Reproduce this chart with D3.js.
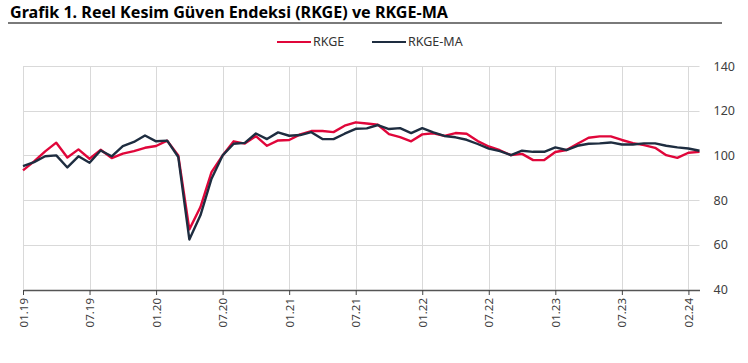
<!DOCTYPE html>
<html>
  <head>
    <meta charset="utf-8">
    <title>Grafik 1</title>
    <script src="https://d3js.org/d3.v7.min.js"></script>
    <style type="text/css">
      body { margin: 0; background: #fff; }
      text { font-family: "Noto Sans", "Open Sans", sans-serif; }
    </style>
  </head>
  <body>
    <div id="chart"></div>
    <script>

      // monthly values, 01.19 .. 02.24 (62 months)
      var rkge = [93.3, 97.3, 101.8, 105.7, 99.1, 102.7, 98.5, 102.5, 98.8, 100.8, 101.9, 103.4, 104.2, 106.6, 100.0,
                  66.9, 76.9, 92.5, 100.0, 106.3, 105.3, 108.6,
                  104.3, 106.7, 106.9, 109.4, 110.9, 110.9, 110.4, 113.3, 114.8, 114.3, 113.7, 109.5, 108.2, 106.3,
                  109.4, 109.9, 108.7, 110.0, 109.7, 106.4, 104.0, 102.3,
                  100.1, 100.7, 97.9, 97.9, 101.5, 102.4, 105.2, 107.9, 108.5, 108.5, 106.9, 105.5, 104.6, 103.4,
                  100.1, 98.9, 101.2, 101.6];
      var rkgeMa = [95.2, 97.0, 99.6, 100.0, 94.6, 99.6, 96.7, 102.2, 99.6, 104.2, 106.0, 108.9, 106.3, 106.6, 99.3,
                    62.4, 73.2, 89.6, 100.0, 105.2, 105.6, 109.8,
                    107.3, 110.3, 108.8, 109.1, 110.4, 107.3, 107.3, 109.7, 111.9, 112.1, 113.6, 111.8, 112.2, 110.0,
                    112.2, 110.3, 108.7, 108.1, 107.0, 105.1, 103.0, 101.9,
                    100.1, 102.1, 101.6, 101.6, 103.6, 102.4, 104.3, 105.2, 105.4, 105.8, 104.9, 104.9, 105.4, 105.4,
                    104.3, 103.6, 103.1, 102.1];
      // x tick positions (month index) and their labels
      var tickIdx = [0, 6, 12, 18, 24, 30, 36, 42, 48, 54, 60];
      var tickLabels = ["01.19", "07.19", "01.20", "07.20", "01.21", "07.21", "01.22", "07.22", "01.23", "07.23", "02.24"];
      var yTicks = [40, 60, 80, 100, 120, 140];

      var width = 748, height = 363;
      var plotL = 23, plotR = 699.5, plotT = 66, plotB = 289.5;

      var svg = d3.select("#chart")
        .append("svg")
          .attr("width", width)
          .attr("height", height);

      svg.append("rect").attr("width", width).attr("height", height).attr("fill", "#fff");

      // title + rule under it
      svg.append("text")
        .attr("x", 10)
        .attr("y", 18)
        .attr("font-size", 16)
        .attr("font-weight", "bold")
        .attr("fill", "#000")
        .attr("textLength", 438)
        .attr("lengthAdjust", "spacingAndGlyphs")
        .text("Grafik 1. Reel Kesim Güven Endeksi (RKGE) ve RKGE-MA");

      svg.append("line")
        .attr("x1", 8).attr("x2", 722)
        .attr("y1", 23).attr("y2", 23)
        .attr("stroke", "#7a7a7a")
        .attr("stroke-width", 2);

      var x = d3.scaleLinear().domain([0, rkge.length - 1]).range([plotL, plotR]);
      var y = d3.scaleLinear().domain([40, 140]).range([plotB, plotT]);

      // grid
      svg.append("g")
        .selectAll("line")
        .data(yTicks.slice(1))
        .enter()
        .append("line")
          .attr("x1", plotL).attr("x2", plotR)
          .attr("y1", function(d) { return Math.round(y(d)) + 0.5; })
          .attr("y2", function(d) { return Math.round(y(d)) + 0.5; })
          .attr("stroke", "#d9d9d9");

      svg.append("g")
        .selectAll("line")
        .data(tickIdx)
        .enter()
        .append("line")
          .attr("x1", function(d) { return Math.round(x(d)) + 0.5; })
          .attr("x2", function(d) { return Math.round(x(d)) + 0.5; })
          .attr("y1", plotT).attr("y2", plotB)
          .attr("stroke", "#d9d9d9");

      // right axis labels
      svg.append("g")
        .attr("transform", "translate(" + plotR + ",0)")
        .call(d3.axisRight(y).tickValues(yTicks).tickSize(0).tickPadding(14))
        .call(function(g) { g.select(".domain").remove(); })
        .selectAll("text")
          .attr("font-size", 12.5)
          .attr("font-family", "Noto Sans")
          .attr("fill", "#404040");

      // bottom axis
      var xAxis = svg.append("g")
        .attr("transform", "translate(0," + Math.round(plotB) + ")")
        .call(d3.axisBottom(x).tickValues(tickIdx)
          .tickFormat(function(d, i) { return tickLabels[i]; })
          .tickSize(5).tickSizeOuter(0));
      xAxis.select(".domain").attr("stroke", "#555").attr("stroke-width", 1.5);
      xAxis.selectAll(".tick line").attr("stroke", "#444");
      xAxis.selectAll("text")
        .attr("font-size", 11.5)
        .attr("font-family", "Noto Sans")
        .attr("fill", "#404040")
        .attr("transform", "rotate(-90)")
        .attr("text-anchor", "end")
        .attr("x", -8)
        .attr("y", 0)
        .attr("dy", "0.35em");

      // lines
      var line = d3.line()
        .x(function(d, i) { return x(i); })
        .y(function(d) { return y(d); });

      svg.append("path")
        .datum(rkge)
        .attr("d", line)
        .attr("fill", "none")
        .attr("stroke", "#e0063a")
        .attr("stroke-width", 2.4)
        .attr("stroke-linejoin", "round");

      svg.append("path")
        .datum(rkgeMa)
        .attr("d", line)
        .attr("fill", "none")
        .attr("stroke", "#1e2d40")
        .attr("stroke-width", 2.4)
        .attr("stroke-linejoin", "round");

      // legend
      var legend = [
        { name: "RKGE", color: "#e0063a", x: 277 },
        { name: "RKGE-MA", color: "#1e2d40", x: 372 }
      ];
      var lg = svg.selectAll(".lg")
        .data(legend)
        .enter()
        .append("g")
        .attr("transform", function(d) { return "translate(" + d.x + ",42)"; });
      lg.append("line")
        .attr("x1", 0).attr("x2", 34)
        .attr("stroke", function(d) { return d.color; })
        .attr("stroke-width", 2.2);
      lg.append("text")
        .attr("x", 36)
        .attr("dy", "0.35em")
        .attr("font-size", 12.5)
        .attr("fill", "#333")
        .text(function(d) { return d.name; });

    </script>
  </body>
</html>
